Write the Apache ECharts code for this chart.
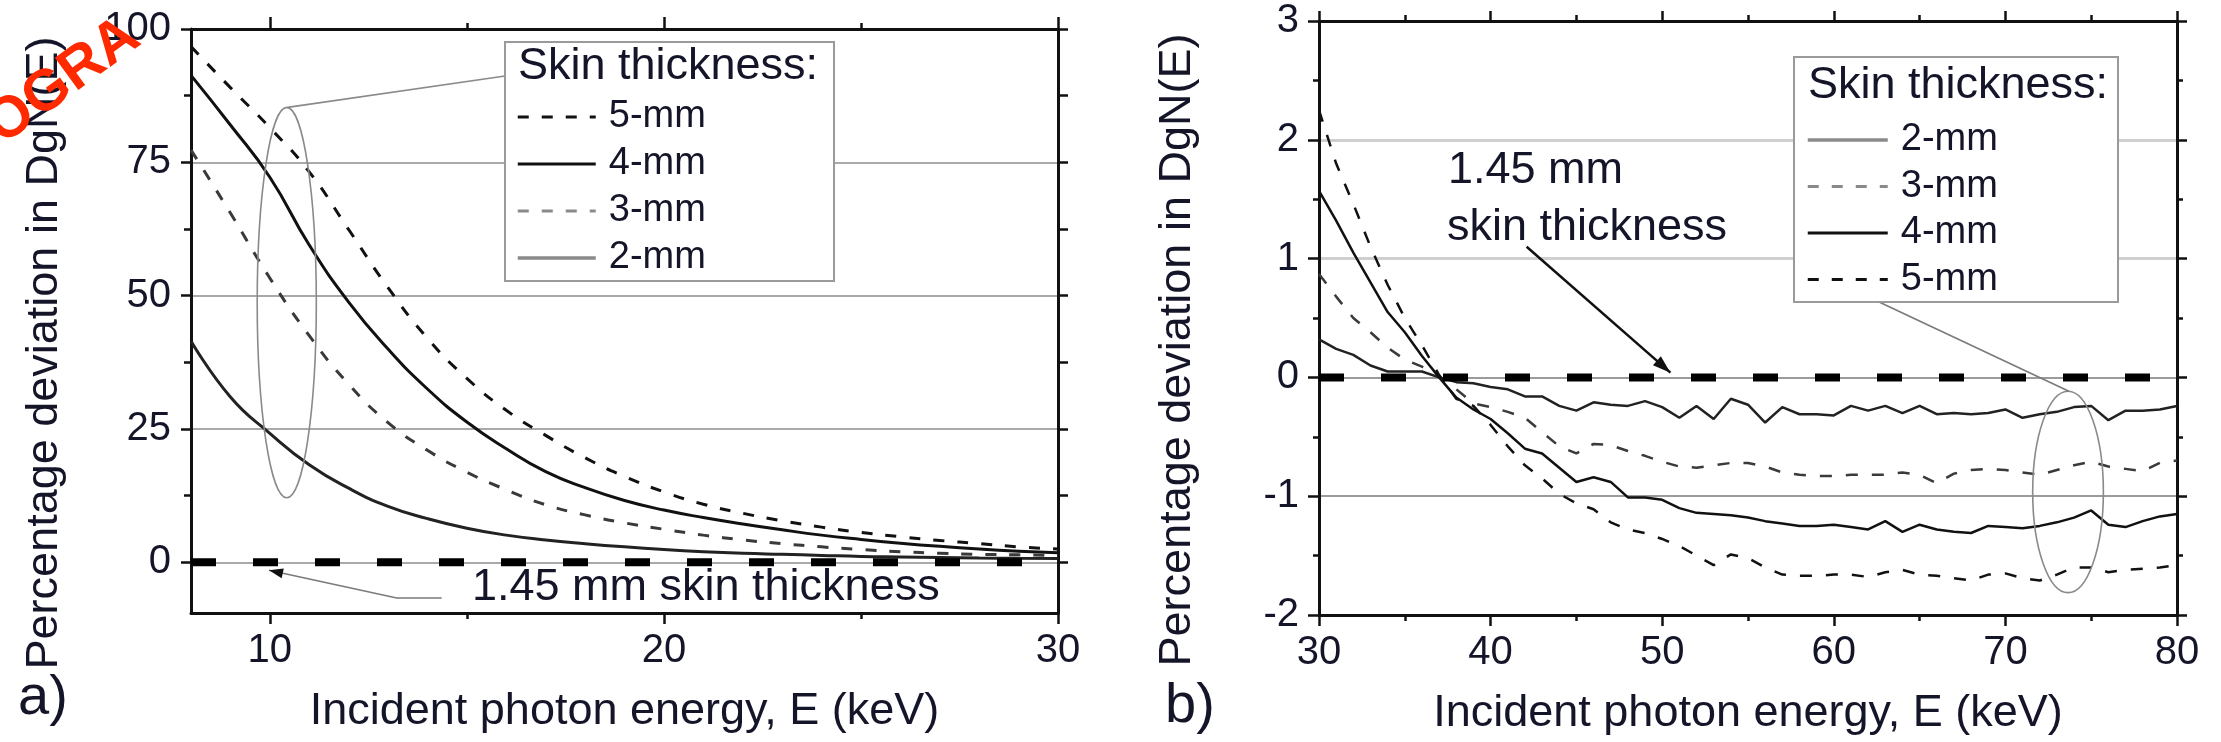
<!DOCTYPE html>
<html>
<head>
<meta charset="utf-8">
<script src="https://cdn.jsdelivr.net/npm/echarts@6/dist/echarts.min.js"></script>
<style>
html,body{margin:0;padding:0;background:#fff;}
#c{width:2221px;height:742px;}
</style>
</head>
<body>
<div id="c"></div>
<script>
// ---------------- DATA ----------------
// Panel a) : 8 - 30 keV
const energyA = [8,9,10,11,12,13,14,15,16,17,18,19,20,21,22,23,24,25,26,27,28,29,30];
const skin5A = [96.7,89.0,81.5,73.2,62.4,51.5,42.0,34.5,28.5,23.8,19.6,16.1,13.2,10.9,9.2,7.8,6.6,5.6,4.8,4.1,3.5,2.9,2.5];
const skin4A = [91.3,82.0,72.2,59.5,48.8,40.0,32.5,26.3,21.3,17.0,14.0,11.6,9.8,8.4,7.2,6.1,5.1,4.3,3.6,3.0,2.5,2.1,1.8];
const skin3A = [77.3,65.5,53.3,42.5,33.4,26.2,21.0,16.9,13.6,10.8,8.9,7.4,6.2,5.1,4.2,3.5,2.9,2.4,2.0,1.7,1.5,1.4,1.3];
const skin2A = [41.5,31.0,24.2,18.3,13.9,10.5,8.2,6.4,5.1,4.2,3.5,2.9,2.4,2.0,1.7,1.5,1.3,1.1,1.0,0.9,0.8,0.75,0.7];
const refEnergyA = [8,30];
const refValueA = [0,0];

// Panel b) : 30 - 80 keV
const energyB = [30,31,32,33,34,35,36,37,38,39,40,41,42,43,44,45,46,47,48,49,50,51,52,53,54,55,56,57,58,59,60,61,62,63,64,65,66,67,68,69,70,71,72,73,74,75,76,77,78,79,80];
const skin2B = [0.32,0.24,0.19,0.10,0.05,0.05,0.05,0.00,-0.04,-0.05,-0.08,-0.10,-0.16,-0.16,-0.24,-0.28,-0.21,-0.23,-0.24,-0.20,-0.25,-0.34,-0.24,-0.35,-0.18,-0.23,-0.38,-0.25,-0.31,-0.31,-0.32,-0.24,-0.28,-0.24,-0.30,-0.24,-0.31,-0.30,-0.31,-0.30,-0.27,-0.34,-0.31,-0.29,-0.25,-0.24,-0.36,-0.28,-0.28,-0.27,-0.24];
const skin3B = [0.87,0.68,0.50,0.38,0.25,0.15,0.09,0.01,-0.10,-0.22,-0.25,-0.29,-0.34,-0.46,-0.58,-0.64,-0.56,-0.57,-0.62,-0.66,-0.71,-0.75,-0.76,-0.74,-0.72,-0.72,-0.75,-0.80,-0.82,-0.83,-0.83,-0.82,-0.82,-0.82,-0.80,-0.82,-0.89,-0.81,-0.78,-0.77,-0.78,-0.80,-0.82,-0.78,-0.74,-0.71,-0.75,-0.77,-0.79,-0.72,-0.70];
const skin4B = [1.57,1.32,1.05,0.80,0.55,0.38,0.18,0.00,-0.17,-0.27,-0.35,-0.47,-0.60,-0.64,-0.76,-0.88,-0.84,-0.88,-1.01,-1.01,-1.03,-1.10,-1.14,-1.15,-1.16,-1.18,-1.21,-1.23,-1.25,-1.25,-1.24,-1.26,-1.28,-1.21,-1.30,-1.24,-1.28,-1.30,-1.31,-1.25,-1.26,-1.27,-1.25,-1.22,-1.18,-1.12,-1.24,-1.26,-1.21,-1.17,-1.15];
const skin5B = [2.25,1.80,1.46,1.10,0.78,0.50,0.27,0.02,-0.18,-0.24,-0.40,-0.58,-0.74,-0.85,-0.98,-1.06,-1.11,-1.22,-1.28,-1.31,-1.36,-1.42,-1.50,-1.58,-1.49,-1.52,-1.60,-1.66,-1.67,-1.67,-1.66,-1.66,-1.68,-1.64,-1.62,-1.66,-1.67,-1.69,-1.71,-1.66,-1.65,-1.69,-1.71,-1.66,-1.60,-1.60,-1.64,-1.62,-1.61,-1.60,-1.58];
const refEnergyB = [30,80];
const refValueB = [0,0];

// Tick labels / tick positions
const xLabelsA = [10,20,30];
const xMinorA = [15,25];
const yLabelsA = [0,25,50,75,100];
const yMinorA = [12.5,37.5,62.5,87.5];
const yAllA = [0,12.5,25,37.5,50,62.5,75,87.5,100];
const gridDarkB = [-1,0];
const gridLightB = [1,2];

const legendA = ['5-mm','4-mm','3-mm','2-mm'];
const legendB = ['2-mm','3-mm','4-mm','5-mm'];

const xTitle = 'Incident photon energy, E (keV)';
const yTitle = 'Percentage deviation in DgN(E)';
const legendTitle = 'Skin thickness:';
const refLabelA = '1.45 mm skin thickness';
const refLabelB1 = '1.45 mm';
const refLabelB2 = 'skin thickness';

// ---------------- STYLE ----------------
const FF = 'Liberation Sans, Arial, Helvetica, sans-serif';
const TX = '#15152a';
const AX = '#111';
const zip = (xs, ys) => xs.map((x, i) => [x, ys[i]]);

const lineOn = {show:true, onZero:false, lineStyle:{color:AX, width:3}};
const lineOff = {show:false, onZero:false};
function ticks(len, vals, show) {
  const t = {show: show !== false, length: len, lineStyle: {color: AX, width: 2.5}};
  if (vals) t.customValues = vals;
  return t;
}
const noLabel = {show:false};
const noSplit = {show:false};
const minor = {show:true, splitNumber:2, length:6, lineStyle:{color:AX, width:2.5}};
function labels(vals, margin) {
  const l = {show:true, fontSize:40, color:TX, fontFamily:FF, margin: margin};
  if (vals) l.customValues = vals;
  return l;
}
const nameStyleX = {fontSize:45, color:TX, fontFamily:FF};
const nameStyleY = {fontSize:45, color:TX, fontFamily:FF, padding:[0,64,0,0]};

const seriesStyle = {
  '5-mm': {color:'#111', type:'dashed'},
  '4-mm': {color:'#111', type:'solid'},
  '3-mm': {color:'#3a3a3a', type:'dashed'},
  '2-mm': {color:'#222', type:'solid'}
};
const legendLine = {
  '5-mm': {color:'#111', width:3, type:[11,13]},
  '4-mm': {color:'#111', width:3, type:'solid'},
  '3-mm': {color:'#8a8a8a', width:3, type:[11,13]},
  '2-mm': {color:'#8a8a8a', width:3.5, type:'solid'}
};

function curve(name, xs, ys, xi, yi, width, dash, smooth) {
  const st = seriesStyle[name];
  const s = {
    name: name, type:'line', xAxisIndex:xi, yAxisIndex:yi,
    data: zip(xs, ys), symbol:'none', showSymbol:false,
    lineStyle: {color: st.color, width: width, type: st.type === 'solid' ? 'solid' : dash},
    z: 2
  };
  if (smooth) s.smooth = smooth;
  return s;
}
function refLine(xs, ys, xi, yi) {
  return {
    name:'1.45 mm', type:'line', xAxisIndex:xi, yAxisIndex:yi,
    data: zip(xs, ys), symbol:'none', showSymbol:false,
    lineStyle:{color:'#000', width:8, type:[25,37]}, z:3
  };
}

const option = {
  animation:false,
  backgroundColor:'#fff',
  textStyle:{fontFamily:FF},
  grid:[
    {left:191, top:29, width:867, height:584, outerBoundsMode:'none'},
    {left:1319, top:21, width:858, height:594, outerBoundsMode:'none'}
  ],
  xAxis:[
    {gridIndex:0, type:'value', position:'bottom', min:8, max:30, axisLine:lineOn,
     axisTick:ticks(11, xLabelsA), axisLabel:labels(xLabelsA, 18), splitLine:noSplit,
     name:xTitle, nameLocation:'middle', nameGap:76, nameTextStyle:nameStyleX},
    {gridIndex:0, type:'value', position:'top', min:8, max:30, axisLine:lineOn,
     axisTick:ticks(12, xLabelsA), axisLabel:noLabel, splitLine:noSplit},
    {gridIndex:0, type:'value', position:'bottom', min:8, max:30, axisLine:lineOff,
     axisTick:ticks(6, xMinorA), axisLabel:noLabel, splitLine:noSplit},
    {gridIndex:0, type:'value', position:'top', min:8, max:30, axisLine:lineOff,
     axisTick:ticks(6, xMinorA), axisLabel:noLabel, splitLine:noSplit},
    {gridIndex:1, type:'value', position:'bottom', min:30, max:80, interval:10, axisLine:lineOn,
     axisTick:ticks(11), minorTick:minor, axisLabel:labels(null, 18), splitLine:noSplit,
     minorSplitLine:noSplit,
     name:xTitle, nameLocation:'middle', nameGap:76, nameTextStyle:nameStyleX},
    {gridIndex:1, type:'value', position:'top', min:30, max:80, interval:10, axisLine:lineOn,
     axisTick:ticks(10), minorTick:minor, axisLabel:noLabel, splitLine:noSplit, minorSplitLine:noSplit}
  ],
  yAxis:[
    {gridIndex:0, type:'value', position:'left', min:-9.5, max:100, axisLine:lineOn,
     axisTick:ticks(10, yLabelsA), axisLabel:labels(yLabelsA, 20),
     splitLine:{show:true, lineStyle:{color:'#8c8c8c', width:1.5}},
     name:yTitle, nameLocation:'middle', nameGap:124, nameTextStyle:nameStyleY},
    {gridIndex:0, type:'value', position:'right', min:-9.5, max:100, axisLine:lineOn,
     axisTick:ticks(10, yAllA), axisLabel:noLabel, splitLine:noSplit},
    {gridIndex:0, type:'value', position:'left', min:-9.5, max:100, axisLine:lineOff,
     axisTick:ticks(7, yMinorA), axisLabel:noLabel, splitLine:noSplit},
    {gridIndex:1, type:'value', position:'left', min:-2, max:3, interval:1, axisLine:lineOn,
     axisTick:ticks(11), minorTick:minor, axisLabel:labels(null, 20), splitLine:noSplit,
     minorSplitLine:noSplit,
     name:yTitle, nameLocation:'middle', nameGap:119, nameTextStyle:nameStyleY},
    {gridIndex:1, type:'value', position:'right', min:-2, max:3, interval:1, axisLine:lineOn,
     axisTick:ticks(10), minorTick:minor, axisLabel:noLabel, splitLine:noSplit, minorSplitLine:noSplit},
    {gridIndex:1, type:'value', position:'left', min:-2, max:3, axisLine:lineOff,
     axisTick:ticks(0, gridDarkB, false), axisLabel:noLabel,
     splitLine:{show:true, lineStyle:{color:'#7a7a7a', width:1.5}}},
    {gridIndex:1, type:'value', position:'left', min:-2, max:3, axisLine:lineOff,
     axisTick:ticks(0, gridLightB, false), axisLabel:noLabel,
     splitLine:{show:true, lineStyle:{color:'#cfcfcf', width:3}}}
  ],
  legend:[
    {left:516, top:98, orient:'vertical', itemWidth:78, itemHeight:38, itemGap:9, padding:0,
     selectedMode:false, z:6, itemStyle:{opacity:0},
     textStyle:{fontSize:38, color:TX, fontFamily:FF, padding:[0,0,0,8]},
     data: legendA.map(n => ({name:n, lineStyle:legendLine[n], itemStyle:{opacity:0}}))},
    {left:1806, top:121, orient:'vertical', itemWidth:80, itemHeight:38, itemGap:8.5, padding:0,
     selectedMode:false, z:6, itemStyle:{opacity:0},
     textStyle:{fontSize:38, color:TX, fontFamily:FF, padding:[0,0,0,8]},
     data: legendB.map(n => ({name:n, lineStyle:legendLine[n], itemStyle:{opacity:0}}))}
  ],
  series:[
    curve('5-mm', energyA, skin5A, 0, 0, 3, [11,13], 0.5),
    curve('4-mm', energyA, skin4A, 0, 0, 3, [11,13], 0.5),
    curve('3-mm', energyA, skin3A, 0, 0, 3, [11,13], 0.5),
    curve('2-mm', energyA, skin2A, 0, 0, 3, [11,13], 0.5),
    refLine(refEnergyA, refValueA, 0, 0),
    curve('2-mm', energyB, skin2B, 4, 3, 2.5, [12,14], 0),
    curve('3-mm', energyB, skin3B, 4, 3, 2.5, [12,14], 0),
    curve('4-mm', energyB, skin4B, 4, 3, 2.5, [12,14], 0),
    curve('5-mm', energyB, skin5B, 4, 3, 2.5, [12,14], 0),
    refLine(refEnergyB, refValueB, 4, 3)
  ]
};

const chart = echarts.init(document.getElementById('c'));
chart.setOption(option);

// ---------------- ANNOTATIONS (positioned in data space) ----------------
const pA = d => chart.convertToPixel({xAxisIndex:0, yAxisIndex:0}, d);
const pB = d => chart.convertToPixel({xAxisIndex:4, yAxisIndex:3}, d);

function ellipseEl(p, c, r) {
  const ctr = p(c);
  const ex = p([c[0] + r[0], c[1]]);
  const ey = p([c[0], c[1] + r[1]]);
  return {type:'ellipse', z:4, shape:{cx:ctr[0], cy:ctr[1], rx:Math.abs(ex[0]-ctr[0]), ry:Math.abs(ey[1]-ctr[1])},
          style:{fill:null, stroke:'#8a8a8a', lineWidth:1.6}};
}
function polyEl(pts, color, w) {
  return {type:'polyline', z:4, shape:{points:pts}, style:{fill:null, stroke:color, lineWidth:w}};
}
function arrowHead(tip, tail, len, half) {
  const dx = tip[0]-tail[0], dy = tip[1]-tail[1];
  const L = Math.hypot(dx, dy), ux = dx/L, uy = dy/L;
  const bx = tip[0]-ux*len, by = tip[1]-uy*len;
  return {type:'polygon', z:4, shape:{points:[[tip[0],tip[1]],[bx-uy*half, by+ux*half],[bx+uy*half, by-ux*half]]},
          style:{fill:'#111'}};
}
function textEl(x, y, txt, size, extra) {
  return Object.assign({type:'text', x:x, y:y, z:7,
    style:{text:txt, font:size + 'px ' + FF, fill:TX, align:'left', textAlign:'left',
           verticalAlign:'middle', textVerticalAlign:'middle'}}, extra || {});
}

const els = [];
// legend boxes and titles
els.push({type:'rect', z:5, shape:{x:505, y:42, width:329, height:239}, style:{fill:'#fff', stroke:'#9a9a9a', lineWidth:2}});
els.push({type:'rect', z:5, shape:{x:1794, y:57, width:324, height:245}, style:{fill:'#fff', stroke:'#9a9a9a', lineWidth:2}});
els.push(textEl(518, 67, legendTitle, 45));
els.push(textEl(1808, 86, legendTitle, 45));

// panel a annotations
els.push(ellipseEl(pA, [10.43, 48.7], [0.75, 36.6]));
els.push(polyEl([pA([10.45, 85.3]), pA([15.97, 91.2])], '#8a8a8a', 1.6));
const leadA = [pA([14.36, -6.7]), pA([13.22, -6.7]), pA([9.98, -1.5])];
els.push(polyEl(leadA, '#7a7a7a', 1.6));
els.push(arrowHead(leadA[2], leadA[1], 14, 5));
els.push(textEl(472, 588, refLabelA, 45));

// panel b annotations
els.push(ellipseEl(pB, [73.65, -0.964], [2.06, 0.848]));
els.push(polyEl([pB([62.3, 0.657]), pB([73.7, -0.116])], '#7a7a7a', 1.6));
const arrB = [pB([42.1, 1.10]), pB([50.48, 0.04])];
els.push(polyEl(arrB, '#111', 2.5));
els.push(arrowHead(arrB[1], arrB[0], 18, 6));
els.push(textEl(1448, 171, refLabelB1, 45));
els.push(textEl(1447, 228, refLabelB2, 45));

// panel tags
els.push(textEl(18, 699, 'a)', 56));
els.push(textEl(1165, 707, 'b)', 56));

// red watermark fragment at the top-left corner
els.push({type:'text', x:10, y:156, rotation:0.63, z:20,
  style:{text:'OGRA', font:'bold 58px ' + FF, fill:'#ff2a00', align:'left', textAlign:'left',
         verticalAlign:'bottom', textVerticalAlign:'bottom'}});

chart.setOption({graphic:{elements:els}});
</script>
</body>
</html>
